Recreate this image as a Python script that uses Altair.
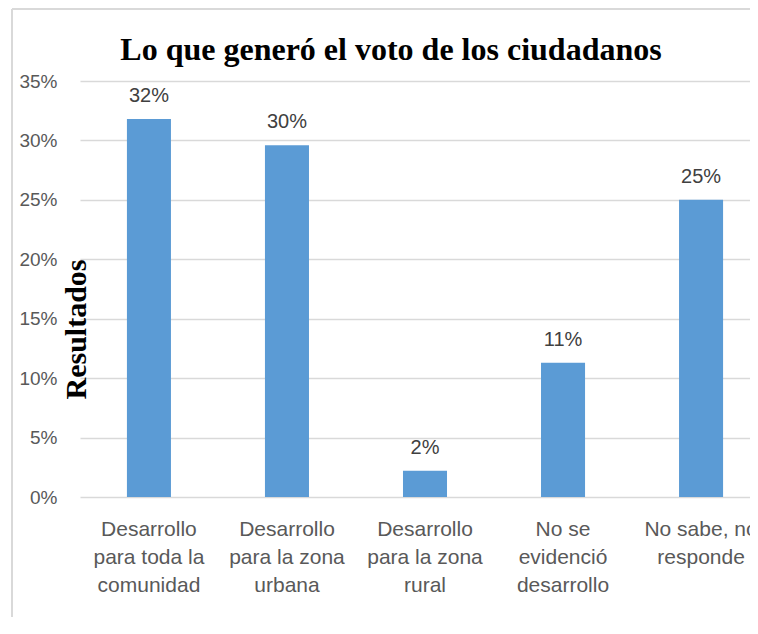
import altair as alt
import pandas as pd

categories = [
    "Desarrollo\npara toda la\ncomunidad",
    "Desarrollo\npara la zona\nurbana",
    "Desarrollo\npara la zona\nrural",
    "No se\nevidenció\ndesarrollo",
    "No sabe, no\nresponde",
]
values = [0.318, 0.296, 0.022, 0.113, 0.25]
y_ticks = [0, 0.05, 0.10, 0.15, 0.20, 0.25, 0.30, 0.35]

df = pd.DataFrame({"cat": categories, "val": values})

x_enc = alt.X(
    "cat:N",
    sort=categories,
    title=None,
    scale=alt.Scale(range=[0, 690], paddingInner=0.681, paddingOuter=0.34),
    axis=alt.Axis(
        labelAngle=0,
        labelExpr="split(datum.label, '\\n')",
        labelFont="Liberation Sans",
        labelFontSize=21,
        labelColor="#595959",
        labelLineHeight=28,
        labelPadding=21,
        labelBaseline="top",
        ticks=False,
        domain=False,
        grid=False,
        labelLimit=300,
    ),
)

y_enc = alt.Y(
    "val:Q",
    scale=alt.Scale(domain=[0, 0.35], nice=False),
    axis=alt.Axis(
        values=y_ticks,
        format=".0%",
        title="Resultados",
        titleFont="Liberation Serif",
        titleFontSize=30,
        titleFontWeight="bold",
        titleColor="#000000",
        titleAngle=270,
        titleAlign="center",
        titleBaseline="alphabetic",
        titleX=5,
        titleY=248,
        labelFont="Liberation Sans",
        labelFontSize=19,
        labelColor="#595959",
        labelPadding=23,
        ticks=False,
        domain=False,
        grid=True,
        gridColor="#D9D9D9",
        gridWidth=1.3,
    ),
)

bars = alt.Chart(df).mark_bar(color="#5B9BD5").encode(x=x_enc, y=y_enc)

labels = alt.Chart(df).mark_text(
    baseline="alphabetic",
    dy=-17,
    font="Liberation Sans",
    fontSize=20,
    color="#404040",
).encode(
    x=alt.X("cat:N", sort=categories),
    y="val:Q",
    text=alt.Text("val:Q", format=".0%"),
)

border_left = alt.Chart(df).mark_rule(color="#D9D9D9", strokeWidth=1.5).encode(
    x=alt.value(-68), y=alt.value(-72), y2=alt.value(540)
)
border_top = alt.Chart(df).mark_rule(color="#D9D9D9", strokeWidth=1.5).encode(
    x=alt.value(-68), x2=alt.value(670), y=alt.value(-72)
)

chart = (
    alt.layer(border_left, border_top, bars, labels)
    .properties(
        width=670,
        height=416,
        autosize=alt.AutoSizeParams(type="none"),
        padding={"left": 72, "top": 73, "right": 0, "bottom": 120},
        title=alt.TitleParams(
            "Lo que generó el voto de los ciudadanos",
            font="Liberation Serif",
            fontSize=32,
            fontWeight="bold",
            color="#000000",
            anchor="middle",
            frame="group",
            baseline="alphabetic",
            offset=-83.75,
            dx=-24,
        ),
    )
    .configure_view(stroke=None)
    .configure_axis(labelOverlap=False)
)

chart.save("out.html", embed_options={"renderer": "svg", "actions": False})
